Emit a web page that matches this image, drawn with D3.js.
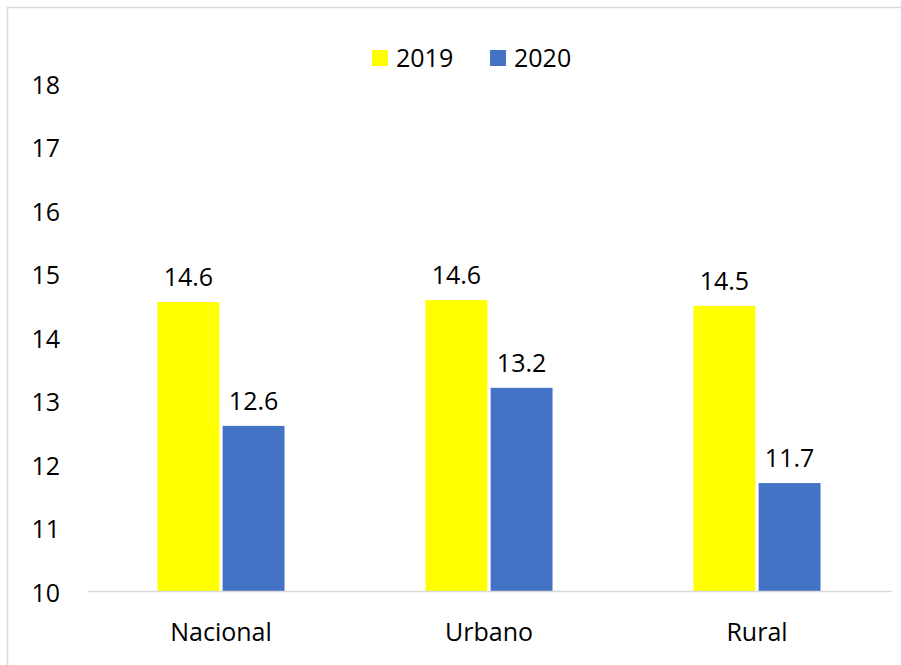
<!DOCTYPE html>
<html>
<head>
<meta charset="utf-8">
<script src="https://cdn.jsdelivr.net/npm/d3@7"></script>
<style>
  body { margin: 0; background: #fff; }
  svg { display: block; }
  text { font-family: "Open Sans", "Noto Sans", sans-serif; fill: #000; }
</style>
</head>
<body>
<div id="chart"></div>
<script>
// datos
let categories = ['Nacional', 'Urbano', 'Rural'];
let years = ['2019', '2020'];
let values2019 = [14.55, 14.58, 14.49];
let values2020 = [12.6, 13.2, 11.7];
let labels2019 = ['14.6', '14.6', '14.5'];
let labels2020 = ['12.6', '13.2', '11.7'];
let yTicks = [10, 11, 12, 13, 14, 15, 16, 17, 18];
let colors = ['#FFFF00', '#4472C4'];

let W = 901, H = 665;
let fontSize = '25px';
let svg = d3.select('#chart').append('svg')
    .attr('width', W)
    .attr('height', H);

//marco
svg.append('rect')
    .attr('x', 7.5).attr('y', 7.5)
    .attr('width', W).attr('height', H)
    .attr('fill', 'none')
    .attr('stroke', '#d9d9d9')
    .attr('stroke-width', 1.5);

//escalas
let xScale = d3.scaleBand()
    .domain(categories)
    .range([87, 891])
    .paddingInner(0.526)
    .paddingOuter(0.263);

let xSub = d3.scaleBand()
    .domain(years)
    .range([0, xScale.bandwidth()])
    .paddingInner(0.05);

let yScale = d3.scaleLinear()
    .domain([10, 18])
    .range([591, 83]);

let color = d3.scaleOrdinal().domain(years).range(colors);

//eje y
let yAxis = svg.append('g')
    .attr('transform', 'translate(60,0)')
    .call(d3.axisLeft(yScale).tickValues(yTicks).tickSize(0).tickPadding(0));
yAxis.select('.domain').remove();
yAxis.selectAll('text')
    .attr('dy', '0.4em')
    .style('font-size', fontSize)
    .style('font-family', '"Open Sans", "Noto Sans", sans-serif')
    .attr('fill', '#000');

//eje x
let xAxis = svg.append('g')
    .attr('transform', 'translate(0,591)')
    .call(d3.axisBottom(xScale).tickSize(0).tickPadding(0));
xAxis.select('.domain').remove();
xAxis.selectAll('text')
    .attr('y', 50)
    .attr('dy', 0)
    .style('font-size', fontSize)
    .style('font-family', '"Open Sans", "Noto Sans", sans-serif')
    .attr('fill', '#000');

//barras
let rows = categories.map(function (c, i) {
    return {
        cat: c,
        items: [
            {year: '2019', v: values2019[i], label: labels2019[i]},
            {year: '2020', v: values2020[i], label: labels2020[i]}
        ]
    };
});

let groups = svg.selectAll('g.group')
    .data(rows)
    .enter()
    .append('g')
    .attr('class', 'group')
    .attr('transform', function (d) {
        return 'translate(' + xScale(d.cat) + ',0)';
    });

groups.selectAll('rect')
    .data(function (d) { return d.items; })
    .enter()
    .append('rect')
    .attr('x', function (d) { return xSub(d.year); })
    .attr('y', function (d) { return yScale(d.v); })
    .attr('width', xSub.bandwidth())
    .attr('height', function (d) { return yScale(10) - yScale(d.v); })
    .attr('fill', function (d) { return color(d.year); });

groups.selectAll('text.val')
    .data(function (d) { return d.items; })
    .enter()
    .append('text')
    .attr('class', 'val')
    .attr('x', function (d) { return xSub(d.year) + xSub.bandwidth() / 2; })
    .attr('y', function (d) { return yScale(d.v) - 16; })
    .attr('text-anchor', 'middle')
    .style('font-size', fontSize)
    .text(function (d) { return d.label; });

//linea base
svg.append('line')
    .attr('x1', 88).attr('x2', 892)
    .attr('y1', 591.5).attr('y2', 591.5)
    .attr('stroke', '#d9d9d9')
    .attr('stroke-width', 1.5);

//leyenda
let legendX = [372, 490];
let legend = svg.selectAll('g.legend')
    .data(years)
    .enter()
    .append('g')
    .attr('class', 'legend')
    .attr('transform', function (d, i) { return 'translate(' + legendX[i] + ',50)'; });
legend.append('rect')
    .attr('width', 16).attr('height', 16)
    .attr('fill', function (d) { return color(d); });
legend.append('text')
    .attr('x', 24)
    .attr('y', 17)
    .style('font-size', fontSize)
    .text(function (d) { return d; });
</script>
</body>
</html>
